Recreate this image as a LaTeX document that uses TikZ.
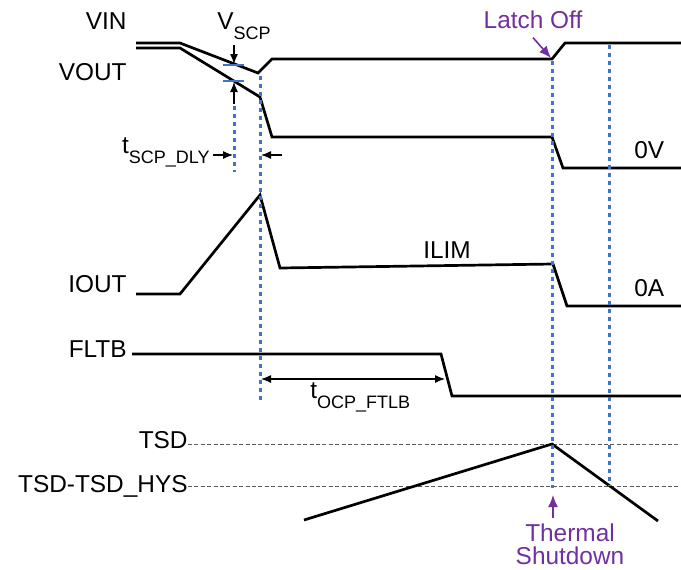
\documentclass[tikz,border=0pt]{standalone}
\usepackage{fontspec}
\setmainfont{Liberation Sans}
\usetikzlibrary{arrows.meta}
\definecolor{markblue}{RGB}{68,114,196}
\definecolor{notepurple}{RGB}{112,48,160}
\definecolor{levelgray}{RGB}{90,90,90}
\newcommand{\lowsub}[1]{\raisebox{-0.42em}{\fontsize{9}{10}\selectfont #1}}

\begin{document}
\begin{tikzpicture}[x=0.5pt,y=-0.5pt,every node/.style={font=\fontsize{12.2}{11.5}\selectfont,inner sep=0pt},
  wave/.style={line width=1.35pt},
  marker/.style={markblue,line width=1.5pt,dash pattern=on 1.8pt off 2.2pt},
  level/.style={levelgray,line width=0.5pt,dash pattern=on 2pt off 1.2pt},
  dim/.style={-{Latex[length=5pt,width=4pt]},line width=0.6pt},
  note/.style={-{Latex[length=6pt,width=5pt]},notepurple,line width=0.8pt}]
\useasboundingbox (0,0) rectangle (681,569);
% signal names
\node[anchor=base east] (vin) at (127,29) {VIN};
\node[anchor=base east] (vout) at (127,80) {VOUT};
\node[anchor=base east] (iout) at (127,292) {IOUT};
\node[anchor=base east] (fltb) at (127,357) {FLTB};
\node[anchor=base east] (tsd) at (188,448) {TSD};
\node[anchor=base east] (tsdhys) at (188,492) {TSD-TSD\_HYS};
% waveforms
\draw[wave] (136,43)--(180,43)--(258,73)--(272,59)--(552,59)--(565,43)--(681,43);
\draw[wave] (136,48)--(180,48)--(260,97)--(272,137)--(552,137)--(563,168)--(681,168);
\draw[wave] (136,294)--(180,294)--(260,195)--(280,268)--(553,264)--(567,306)--(681,306);
\draw[wave] (132,354)--(441,354)--(452,396)--(681,396);
\coordinate (tsdlvl) at (681,444); \coordinate (hyslvl) at (681,486);
\draw[level] (tsd.east|-tsdlvl)--(tsdlvl);
\draw[level] (tsdhys.east|-hyslvl)--(hyslvl);
\draw[wave] (304,520)--(552,444)--(658,521);
% timing markers
\draw[marker] (234,106)--(234,172);
\draw[marker] (260,76)--(260,400);
\draw[marker] (552,61)--(552,488);
\draw[marker] (609,45)--(609,486);
\draw[markblue,line width=0.6pt] (223,65)--(244,65) (223,81)--(244,81);
% V_SCP
\node[anchor=base west] (vscp) at (217,29) {V\lowsub{SCP}};
\coordinate (vscptop) at (234,45); \coordinate (vscphi) at (234,64);
\coordinate (vscpbot) at (234,104); \coordinate (vscplo) at (234,82);
\draw[dim] (vscptop)--(vscphi); \draw[dim] (vscpbot)--(vscplo);
% t_SCP_DLY
\node[anchor=base east] (tscp) at (210,153) {t\lowsub{SCP\_DLY}};
\coordinate (scpa) at (233,155); \coordinate (scpb) at (261,155); \coordinate (scpc) at (282,155);
\draw[dim] (tscp.east|-scpa)++(3,0)--(scpa); \draw[dim] (scpc)--(scpb);
% t_OCP_FTLB
\coordinate (ocpa) at (261,379); \coordinate (ocpb) at (445,379);
\draw[dim,{Latex[length=5pt,width=4pt]}-{Latex[length=5pt,width=4pt]}] (ocpa)--(ocpb);
\node[anchor=base west] (tocp) at (310,398) {t\lowsub{OCP\_FTLB}};
% levels
\node[anchor=base] (ilim) at (447,258) {ILIM};
\node[anchor=base west] (zerov) at (634,158) {0V};
\node[anchor=base west] (zeroa) at (634,296) {0A};
% notes
\node[anchor=base,text=notepurple] (latch) at (533,28) {Latch Off};
\coordinate (latchtip) at (551,58);
\draw[note] (latch.south)++(0,9)--(latchtip);
\node[anchor=north,align=center,text=notepurple] (tshd) at (570,523) {Thermal\\Shutdown};
\coordinate (tshdtip) at (553,495);
\draw[note] (tshdtip|-tshd.north)++(0,-5)--(tshdtip);
\end{tikzpicture}
\end{document}
